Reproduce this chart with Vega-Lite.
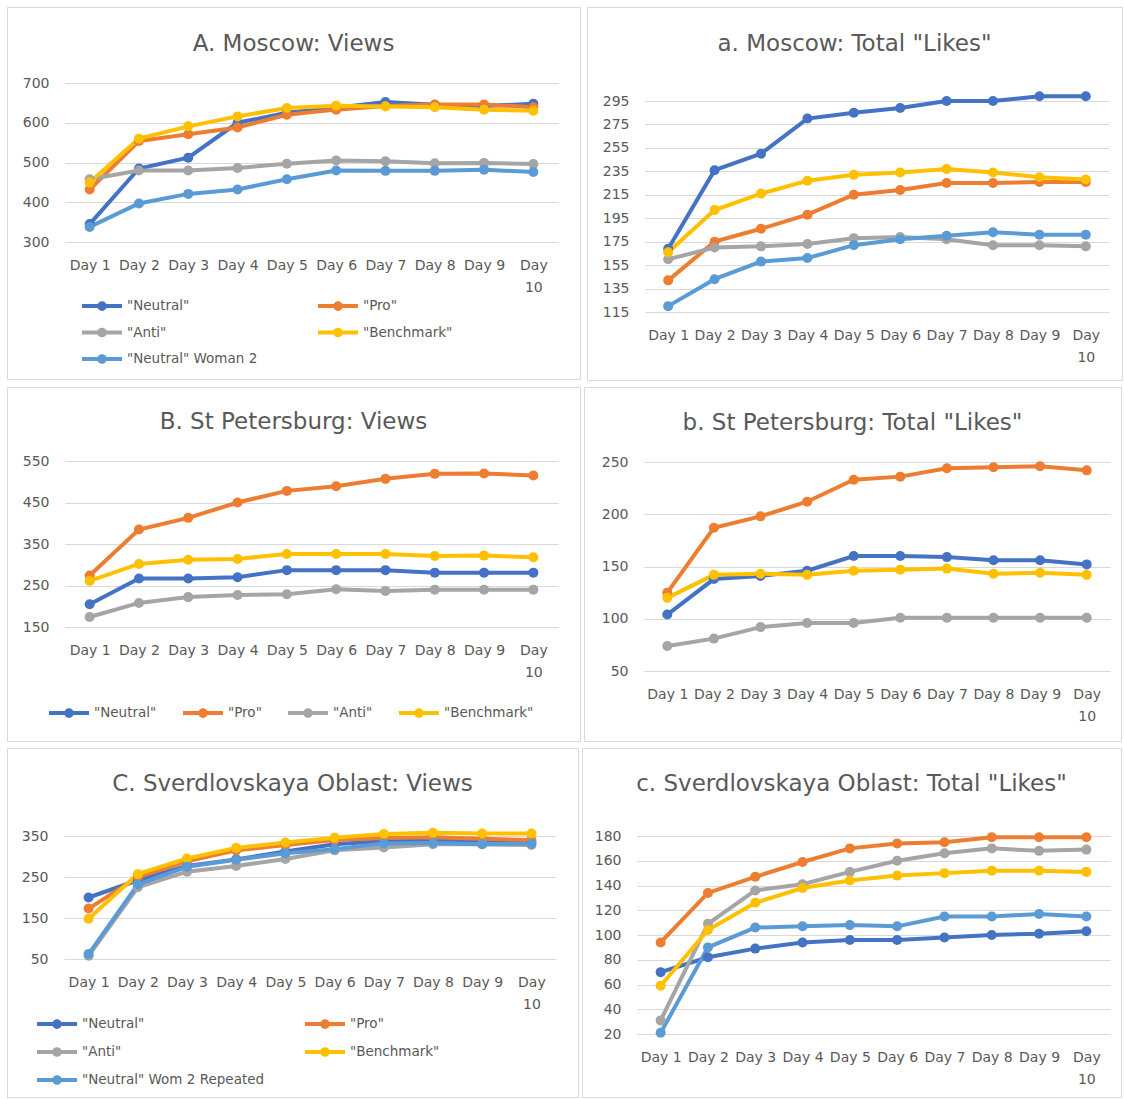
{
"$schema": "https://vega.github.io/schema/vega-lite/v6.json",
"padding": {"left": 6, "top": 6, "right": 0, "bottom": 0},
"background": "white",
"config": {
  "view": {"stroke": "#D9D9D9", "strokeWidth": 1},
  "font": "DejaVu Sans",
  "axis": {"labelFont": "DejaVu Sans", "labelFontSize": 14, "labelColor": "#595959", "domain": false, "ticks": false, "gridColor": "#D9D9D9", "gridWidth": 1, "labelPadding": 16},
  "legend": {"title": null, "direction": "horizontal", "symbolType": "M-1,0L3,0M0.72,0A0.28,0.28,0,1,1,1.28,0A0.28,0.28,0,1,1,0.72,0", "symbolSize": 400, "symbolStrokeWidth": 4, "labelOffset": 23, "labelLimit": 300, "labelFontSize": 13.5, "labelColor": "#595959", "labelFont": "DejaVu Sans", "padding": 0},
  "title": {"font": "DejaVu Sans", "fontSize": 23, "fontWeight": "normal", "color": "#595959", "anchor": "middle", "baseline": "alphabetic", "offset": 0}
},
"datasets": {
"A": [
{"s":"\"Neutral\"","d":"Day 1","v":345},{"s":"\"Neutral\"","d":"Day 2","v":485},{"s":"\"Neutral\"","d":"Day 3","v":512},{"s":"\"Neutral\"","d":"Day 4","v":600},{"s":"\"Neutral\"","d":"Day 5","v":625},{"s":"\"Neutral\"","d":"Day 6","v":638},{"s":"\"Neutral\"","d":"Day 7","v":652},{"s":"\"Neutral\"","d":"Day 8","v":645},{"s":"\"Neutral\"","d":"Day 9","v":642},{"s":"\"Neutral\"","d":"Day 10","v":648},
{"s":"\"Pro\"","d":"Day 1","v":432},{"s":"\"Pro\"","d":"Day 2","v":554},{"s":"\"Pro\"","d":"Day 3","v":571},{"s":"\"Pro\"","d":"Day 4","v":588},{"s":"\"Pro\"","d":"Day 5","v":620},{"s":"\"Pro\"","d":"Day 6","v":633},{"s":"\"Pro\"","d":"Day 7","v":642},{"s":"\"Pro\"","d":"Day 8","v":646},{"s":"\"Pro\"","d":"Day 9","v":646},{"s":"\"Pro\"","d":"Day 10","v":639},
{"s":"\"Anti\"","d":"Day 1","v":458},{"s":"\"Anti\"","d":"Day 2","v":480},{"s":"\"Anti\"","d":"Day 3","v":480},{"s":"\"Anti\"","d":"Day 4","v":486},{"s":"\"Anti\"","d":"Day 5","v":497},{"s":"\"Anti\"","d":"Day 6","v":505},{"s":"\"Anti\"","d":"Day 7","v":503},{"s":"\"Anti\"","d":"Day 8","v":498},{"s":"\"Anti\"","d":"Day 9","v":499},{"s":"\"Anti\"","d":"Day 10","v":496},
{"s":"\"Benchmark\"","d":"Day 1","v":450},{"s":"\"Benchmark\"","d":"Day 2","v":560},{"s":"\"Benchmark\"","d":"Day 3","v":591},{"s":"\"Benchmark\"","d":"Day 4","v":616},{"s":"\"Benchmark\"","d":"Day 5","v":637},{"s":"\"Benchmark\"","d":"Day 6","v":643},{"s":"\"Benchmark\"","d":"Day 7","v":641},{"s":"\"Benchmark\"","d":"Day 8","v":639},{"s":"\"Benchmark\"","d":"Day 9","v":633},{"s":"\"Benchmark\"","d":"Day 10","v":630},
{"s":"\"Neutral\" Woman 2","d":"Day 1","v":338},{"s":"\"Neutral\" Woman 2","d":"Day 2","v":397},{"s":"\"Neutral\" Woman 2","d":"Day 3","v":421},{"s":"\"Neutral\" Woman 2","d":"Day 4","v":432},{"s":"\"Neutral\" Woman 2","d":"Day 5","v":458},{"s":"\"Neutral\" Woman 2","d":"Day 6","v":480},{"s":"\"Neutral\" Woman 2","d":"Day 7","v":479},{"s":"\"Neutral\" Woman 2","d":"Day 8","v":479},{"s":"\"Neutral\" Woman 2","d":"Day 9","v":482},{"s":"\"Neutral\" Woman 2","d":"Day 10","v":476}
],
"a": [
{"s":"\"Neutral\"","d":"Day 1","v":169},{"s":"\"Neutral\"","d":"Day 2","v":236},{"s":"\"Neutral\"","d":"Day 3","v":250},{"s":"\"Neutral\"","d":"Day 4","v":280},{"s":"\"Neutral\"","d":"Day 5","v":285},{"s":"\"Neutral\"","d":"Day 6","v":289},{"s":"\"Neutral\"","d":"Day 7","v":295},{"s":"\"Neutral\"","d":"Day 8","v":295},{"s":"\"Neutral\"","d":"Day 9","v":299},{"s":"\"Neutral\"","d":"Day 10","v":299},
{"s":"\"Pro\"","d":"Day 1","v":142},{"s":"\"Pro\"","d":"Day 2","v":175},{"s":"\"Pro\"","d":"Day 3","v":186},{"s":"\"Pro\"","d":"Day 4","v":198},{"s":"\"Pro\"","d":"Day 5","v":215},{"s":"\"Pro\"","d":"Day 6","v":219},{"s":"\"Pro\"","d":"Day 7","v":225},{"s":"\"Pro\"","d":"Day 8","v":225},{"s":"\"Pro\"","d":"Day 9","v":226},{"s":"\"Pro\"","d":"Day 10","v":226},
{"s":"\"Anti\"","d":"Day 1","v":160},{"s":"\"Anti\"","d":"Day 2","v":170},{"s":"\"Anti\"","d":"Day 3","v":171},{"s":"\"Anti\"","d":"Day 4","v":173},{"s":"\"Anti\"","d":"Day 5","v":178},{"s":"\"Anti\"","d":"Day 6","v":179},{"s":"\"Anti\"","d":"Day 7","v":177},{"s":"\"Anti\"","d":"Day 8","v":172},{"s":"\"Anti\"","d":"Day 9","v":172},{"s":"\"Anti\"","d":"Day 10","v":171},
{"s":"\"Benchmark\"","d":"Day 1","v":166},{"s":"\"Benchmark\"","d":"Day 2","v":202},{"s":"\"Benchmark\"","d":"Day 3","v":216},{"s":"\"Benchmark\"","d":"Day 4","v":227},{"s":"\"Benchmark\"","d":"Day 5","v":232},{"s":"\"Benchmark\"","d":"Day 6","v":234},{"s":"\"Benchmark\"","d":"Day 7","v":237},{"s":"\"Benchmark\"","d":"Day 8","v":234},{"s":"\"Benchmark\"","d":"Day 9","v":230},{"s":"\"Benchmark\"","d":"Day 10","v":228},
{"s":"\"Neutral\" Woman 2","d":"Day 1","v":120},{"s":"\"Neutral\" Woman 2","d":"Day 2","v":143},{"s":"\"Neutral\" Woman 2","d":"Day 3","v":158},{"s":"\"Neutral\" Woman 2","d":"Day 4","v":161},{"s":"\"Neutral\" Woman 2","d":"Day 5","v":172},{"s":"\"Neutral\" Woman 2","d":"Day 6","v":177},{"s":"\"Neutral\" Woman 2","d":"Day 7","v":180},{"s":"\"Neutral\" Woman 2","d":"Day 8","v":183},{"s":"\"Neutral\" Woman 2","d":"Day 9","v":181},{"s":"\"Neutral\" Woman 2","d":"Day 10","v":181}
],
"B": [
{"s":"\"Neutral\"","d":"Day 1","v":205},{"s":"\"Neutral\"","d":"Day 2","v":267},{"s":"\"Neutral\"","d":"Day 3","v":267},{"s":"\"Neutral\"","d":"Day 4","v":270},{"s":"\"Neutral\"","d":"Day 5","v":287},{"s":"\"Neutral\"","d":"Day 6","v":287},{"s":"\"Neutral\"","d":"Day 7","v":287},{"s":"\"Neutral\"","d":"Day 8","v":281},{"s":"\"Neutral\"","d":"Day 9","v":281},{"s":"\"Neutral\"","d":"Day 10","v":281},
{"s":"\"Pro\"","d":"Day 1","v":274},{"s":"\"Pro\"","d":"Day 2","v":385},{"s":"\"Pro\"","d":"Day 3","v":413},{"s":"\"Pro\"","d":"Day 4","v":450},{"s":"\"Pro\"","d":"Day 5","v":478},{"s":"\"Pro\"","d":"Day 6","v":489},{"s":"\"Pro\"","d":"Day 7","v":507},{"s":"\"Pro\"","d":"Day 8","v":519},{"s":"\"Pro\"","d":"Day 9","v":520},{"s":"\"Pro\"","d":"Day 10","v":515},
{"s":"\"Anti\"","d":"Day 1","v":174},{"s":"\"Anti\"","d":"Day 2","v":208},{"s":"\"Anti\"","d":"Day 3","v":222},{"s":"\"Anti\"","d":"Day 4","v":227},{"s":"\"Anti\"","d":"Day 5","v":229},{"s":"\"Anti\"","d":"Day 6","v":241},{"s":"\"Anti\"","d":"Day 7","v":237},{"s":"\"Anti\"","d":"Day 8","v":240},{"s":"\"Anti\"","d":"Day 9","v":240},{"s":"\"Anti\"","d":"Day 10","v":240},
{"s":"\"Benchmark\"","d":"Day 1","v":261},{"s":"\"Benchmark\"","d":"Day 2","v":302},{"s":"\"Benchmark\"","d":"Day 3","v":312},{"s":"\"Benchmark\"","d":"Day 4","v":314},{"s":"\"Benchmark\"","d":"Day 5","v":326},{"s":"\"Benchmark\"","d":"Day 6","v":326},{"s":"\"Benchmark\"","d":"Day 7","v":326},{"s":"\"Benchmark\"","d":"Day 8","v":321},{"s":"\"Benchmark\"","d":"Day 9","v":322},{"s":"\"Benchmark\"","d":"Day 10","v":318}
],
"b": [
{"s":"\"Neutral\"","d":"Day 1","v":104},{"s":"\"Neutral\"","d":"Day 2","v":138},{"s":"\"Neutral\"","d":"Day 3","v":141},{"s":"\"Neutral\"","d":"Day 4","v":146},{"s":"\"Neutral\"","d":"Day 5","v":160},{"s":"\"Neutral\"","d":"Day 6","v":160},{"s":"\"Neutral\"","d":"Day 7","v":159},{"s":"\"Neutral\"","d":"Day 8","v":156},{"s":"\"Neutral\"","d":"Day 9","v":156},{"s":"\"Neutral\"","d":"Day 10","v":152},
{"s":"\"Pro\"","d":"Day 1","v":125},{"s":"\"Pro\"","d":"Day 2","v":187},{"s":"\"Pro\"","d":"Day 3","v":198},{"s":"\"Pro\"","d":"Day 4","v":212},{"s":"\"Pro\"","d":"Day 5","v":233},{"s":"\"Pro\"","d":"Day 6","v":236},{"s":"\"Pro\"","d":"Day 7","v":244},{"s":"\"Pro\"","d":"Day 8","v":245},{"s":"\"Pro\"","d":"Day 9","v":246},{"s":"\"Pro\"","d":"Day 10","v":242},
{"s":"\"Anti\"","d":"Day 1","v":74},{"s":"\"Anti\"","d":"Day 2","v":81},{"s":"\"Anti\"","d":"Day 3","v":92},{"s":"\"Anti\"","d":"Day 4","v":96},{"s":"\"Anti\"","d":"Day 5","v":96},{"s":"\"Anti\"","d":"Day 6","v":101},{"s":"\"Anti\"","d":"Day 7","v":101},{"s":"\"Anti\"","d":"Day 8","v":101},{"s":"\"Anti\"","d":"Day 9","v":101},{"s":"\"Anti\"","d":"Day 10","v":101},
{"s":"\"Benchmark\"","d":"Day 1","v":120},{"s":"\"Benchmark\"","d":"Day 2","v":142},{"s":"\"Benchmark\"","d":"Day 3","v":143},{"s":"\"Benchmark\"","d":"Day 4","v":142},{"s":"\"Benchmark\"","d":"Day 5","v":146},{"s":"\"Benchmark\"","d":"Day 6","v":147},{"s":"\"Benchmark\"","d":"Day 7","v":148},{"s":"\"Benchmark\"","d":"Day 8","v":143},{"s":"\"Benchmark\"","d":"Day 9","v":144},{"s":"\"Benchmark\"","d":"Day 10","v":142}
],
"C": [
{"s":"\"Neutral\"","d":"Day 1","v":200},{"s":"\"Neutral\"","d":"Day 2","v":242},{"s":"\"Neutral\"","d":"Day 3","v":277},{"s":"\"Neutral\"","d":"Day 4","v":293},{"s":"\"Neutral\"","d":"Day 5","v":312},{"s":"\"Neutral\"","d":"Day 6","v":330},{"s":"\"Neutral\"","d":"Day 7","v":338},{"s":"\"Neutral\"","d":"Day 8","v":339},{"s":"\"Neutral\"","d":"Day 9","v":337},{"s":"\"Neutral\"","d":"Day 10","v":335},
{"s":"\"Pro\"","d":"Day 1","v":173},{"s":"\"Pro\"","d":"Day 2","v":250},{"s":"\"Pro\"","d":"Day 3","v":288},{"s":"\"Pro\"","d":"Day 4","v":315},{"s":"\"Pro\"","d":"Day 5","v":328},{"s":"\"Pro\"","d":"Day 6","v":340},{"s":"\"Pro\"","d":"Day 7","v":345},{"s":"\"Pro\"","d":"Day 8","v":347},{"s":"\"Pro\"","d":"Day 9","v":343},{"s":"\"Pro\"","d":"Day 10","v":340},
{"s":"\"Anti\"","d":"Day 1","v":58},{"s":"\"Anti\"","d":"Day 2","v":225},{"s":"\"Anti\"","d":"Day 3","v":263},{"s":"\"Anti\"","d":"Day 4","v":277},{"s":"\"Anti\"","d":"Day 5","v":294},{"s":"\"Anti\"","d":"Day 6","v":315},{"s":"\"Anti\"","d":"Day 7","v":322},{"s":"\"Anti\"","d":"Day 8","v":330},{"s":"\"Anti\"","d":"Day 9","v":330},{"s":"\"Anti\"","d":"Day 10","v":328},
{"s":"\"Benchmark\"","d":"Day 1","v":148},{"s":"\"Benchmark\"","d":"Day 2","v":257},{"s":"\"Benchmark\"","d":"Day 3","v":295},{"s":"\"Benchmark\"","d":"Day 4","v":321},{"s":"\"Benchmark\"","d":"Day 5","v":334},{"s":"\"Benchmark\"","d":"Day 6","v":346},{"s":"\"Benchmark\"","d":"Day 7","v":355},{"s":"\"Benchmark\"","d":"Day 8","v":358},{"s":"\"Benchmark\"","d":"Day 9","v":356},{"s":"\"Benchmark\"","d":"Day 10","v":356},
{"s":"\"Neutral\" Wom 2 Repeated","d":"Day 1","v":62},{"s":"\"Neutral\" Wom 2 Repeated","d":"Day 2","v":232},{"s":"\"Neutral\" Wom 2 Repeated","d":"Day 3","v":275},{"s":"\"Neutral\" Wom 2 Repeated","d":"Day 4","v":292},{"s":"\"Neutral\" Wom 2 Repeated","d":"Day 5","v":308},{"s":"\"Neutral\" Wom 2 Repeated","d":"Day 6","v":318},{"s":"\"Neutral\" Wom 2 Repeated","d":"Day 7","v":332},{"s":"\"Neutral\" Wom 2 Repeated","d":"Day 8","v":333},{"s":"\"Neutral\" Wom 2 Repeated","d":"Day 9","v":330},{"s":"\"Neutral\" Wom 2 Repeated","d":"Day 10","v":331}
],
"c": [
{"s":"\"Neutral\"","d":"Day 1","v":70},{"s":"\"Neutral\"","d":"Day 2","v":82},{"s":"\"Neutral\"","d":"Day 3","v":89},{"s":"\"Neutral\"","d":"Day 4","v":94},{"s":"\"Neutral\"","d":"Day 5","v":96},{"s":"\"Neutral\"","d":"Day 6","v":96},{"s":"\"Neutral\"","d":"Day 7","v":98},{"s":"\"Neutral\"","d":"Day 8","v":100},{"s":"\"Neutral\"","d":"Day 9","v":101},{"s":"\"Neutral\"","d":"Day 10","v":103},
{"s":"\"Pro\"","d":"Day 1","v":94},{"s":"\"Pro\"","d":"Day 2","v":134},{"s":"\"Pro\"","d":"Day 3","v":147},{"s":"\"Pro\"","d":"Day 4","v":159},{"s":"\"Pro\"","d":"Day 5","v":170},{"s":"\"Pro\"","d":"Day 6","v":174},{"s":"\"Pro\"","d":"Day 7","v":175},{"s":"\"Pro\"","d":"Day 8","v":179},{"s":"\"Pro\"","d":"Day 9","v":179},{"s":"\"Pro\"","d":"Day 10","v":179},
{"s":"\"Anti\"","d":"Day 1","v":31},{"s":"\"Anti\"","d":"Day 2","v":109},{"s":"\"Anti\"","d":"Day 3","v":136},{"s":"\"Anti\"","d":"Day 4","v":141},{"s":"\"Anti\"","d":"Day 5","v":151},{"s":"\"Anti\"","d":"Day 6","v":160},{"s":"\"Anti\"","d":"Day 7","v":166},{"s":"\"Anti\"","d":"Day 8","v":170},{"s":"\"Anti\"","d":"Day 9","v":168},{"s":"\"Anti\"","d":"Day 10","v":169},
{"s":"\"Benchmark\"","d":"Day 1","v":59},{"s":"\"Benchmark\"","d":"Day 2","v":104},{"s":"\"Benchmark\"","d":"Day 3","v":126},{"s":"\"Benchmark\"","d":"Day 4","v":138},{"s":"\"Benchmark\"","d":"Day 5","v":144},{"s":"\"Benchmark\"","d":"Day 6","v":148},{"s":"\"Benchmark\"","d":"Day 7","v":150},{"s":"\"Benchmark\"","d":"Day 8","v":152},{"s":"\"Benchmark\"","d":"Day 9","v":152},{"s":"\"Benchmark\"","d":"Day 10","v":151},
{"s":"\"Neutral\" Wom 2 Repeated","d":"Day 1","v":21},{"s":"\"Neutral\" Wom 2 Repeated","d":"Day 2","v":90},{"s":"\"Neutral\" Wom 2 Repeated","d":"Day 3","v":106},{"s":"\"Neutral\" Wom 2 Repeated","d":"Day 4","v":107},{"s":"\"Neutral\" Wom 2 Repeated","d":"Day 5","v":108},{"s":"\"Neutral\" Wom 2 Repeated","d":"Day 6","v":107},{"s":"\"Neutral\" Wom 2 Repeated","d":"Day 7","v":115},{"s":"\"Neutral\" Wom 2 Repeated","d":"Day 8","v":115},{"s":"\"Neutral\" Wom 2 Repeated","d":"Day 9","v":117},{"s":"\"Neutral\" Wom 2 Repeated","d":"Day 10","v":115}
]
},
"resolve": {"scale": {"color": "independent", "x": "independent", "y": "independent"}, "legend": {"color": "independent"}},
"spacing": 5,
"vconcat": [
{
"spacing": 5,
"resolve": {"scale": {"color": "independent", "x": "independent", "y": "independent"}, "legend": {"color": "independent"}},
"hconcat": [
{
"width": 573, "height": 372,
"data": {"name": "A"},
"title": {"text": "A. Moscow: Views", "dy": 53},
"mark": {"type": "line", "strokeWidth": 4, "point": {"filled": true, "size": 100}},
"encoding": {
"x": {"field": "d", "type": "ordinal", "scale": {"type": "point", "domain": ["Day 1","Day 2","Day 3","Day 4","Day 5","Day 6","Day 7","Day 8","Day 9","Day 10"], "range": [58, 551], "padding": 0.5},
 "axis": {"orient": "bottom", "offset": -137, "grid": false, "labelAngle": 0, "title": null, "labelOverlap": false, "labelLineHeight": 22, "labelExpr": "datum.label == 'Day 10' ? ['Day', '10'] : datum.label"}},
"y": {"field": "v", "type": "quantitative", "scale": {"domain": [300, 700], "range": [235, 76], "nice": false, "zero": false},
 "axis": {"orient": "left", "offset": -58, "grid": true, "title": null, "values": [300,400,500,600,700]}},
"color": {"field": "s", "type": "nominal", "scale": {"domain": ["\"Neutral\"","\"Pro\"","\"Anti\"","\"Benchmark\"","\"Neutral\" Woman 2"], "range": ["#4472C4","#ED7D31","#A5A5A5","#FFC000","#5B9BD5"]},
 "legend": {"orient": "none", "legendX": 73, "legendY": 287, "columns": 2, "columnPadding": 52, "rowPadding": 3.5}}
}
},
{
"width": 535, "height": 373,
"data": {"name": "a"},
"title": {"text": "a. Moscow: Total \"Likes\"", "dy": 53},
"mark": {"type": "line", "strokeWidth": 4, "point": {"filled": true, "size": 100}},
"encoding": {
"x": {"field": "d", "type": "ordinal", "scale": {"type": "point", "domain": ["Day 1","Day 2","Day 3","Day 4","Day 5","Day 6","Day 7","Day 8","Day 9","Day 10"], "range": [58, 522], "padding": 0.5},
 "axis": {"orient": "bottom", "offset": -68, "grid": false, "labelAngle": 0, "title": null, "labelOverlap": false, "labelLineHeight": 22, "labelExpr": "datum.label == 'Day 10' ? ['Day', '10'] : datum.label"}},
"y": {"field": "v", "type": "quantitative", "scale": {"domain": [115, 295], "range": [305, 94], "nice": false, "zero": false},
 "axis": {"orient": "left", "offset": -58, "grid": true, "title": null, "values": [115,135,155,175,195,215,235,255,275,295]}},
"color": {"field": "s", "type": "nominal", "scale": {"domain": ["\"Neutral\"","\"Pro\"","\"Anti\"","\"Benchmark\"","\"Neutral\" Woman 2"], "range": ["#4472C4","#ED7D31","#A5A5A5","#FFC000","#5B9BD5"]}, "legend": null}
}
}
]
},
{
"spacing": 2,
"resolve": {"scale": {"color": "independent", "x": "independent", "y": "independent"}, "legend": {"color": "independent"}},
"hconcat": [
{
"width": 573, "height": 354,
"data": {"name": "B"},
"title": {"text": "B. St Petersburg: Views", "dy": 51},
"mark": {"type": "line", "strokeWidth": 4, "point": {"filled": true, "size": 100}},
"encoding": {
"x": {"field": "d", "type": "ordinal", "scale": {"type": "point", "domain": ["Day 1","Day 2","Day 3","Day 4","Day 5","Day 6","Day 7","Day 8","Day 9","Day 10"], "range": [58, 551], "padding": 0.5},
 "axis": {"orient": "bottom", "offset": -114, "grid": false, "labelAngle": 0, "title": null, "labelOverlap": false, "labelLineHeight": 22, "labelExpr": "datum.label == 'Day 10' ? ['Day', '10'] : datum.label"}},
"y": {"field": "v", "type": "quantitative", "scale": {"domain": [150, 550], "range": [240, 74], "nice": false, "zero": false},
 "axis": {"orient": "left", "offset": -58, "grid": true, "title": null, "values": [150,250,350,450,550]}},
"color": {"field": "s", "type": "nominal", "scale": {"domain": ["\"Neutral\"","\"Pro\"","\"Anti\"","\"Benchmark\""], "range": ["#4472C4","#ED7D31","#A5A5A5","#FFC000"]},
 "legend": {"orient": "none", "legendX": 40, "legendY": 314, "columns": 4, "columnPadding": 18, "rowPadding": 0}}
}
},
{
"width": 537, "height": 354,
"data": {"name": "b"},
"title": {"text": "b. St Petersburg: Total \"Likes\"", "dy": 52},
"mark": {"type": "line", "strokeWidth": 4, "point": {"filled": true, "size": 100}},
"encoding": {
"x": {"field": "d", "type": "ordinal", "scale": {"type": "point", "domain": ["Day 1","Day 2","Day 3","Day 4","Day 5","Day 6","Day 7","Day 8","Day 9","Day 10"], "range": [60, 526], "padding": 0.5},
 "axis": {"orient": "bottom", "offset": -70, "grid": false, "labelAngle": 0, "title": null, "labelOverlap": false, "labelLineHeight": 22, "labelExpr": "datum.label == 'Day 10' ? ['Day', '10'] : datum.label"}},
"y": {"field": "v", "type": "quantitative", "scale": {"domain": [50, 250], "range": [284, 75], "nice": false, "zero": false},
 "axis": {"orient": "left", "offset": -60, "grid": true, "title": null, "values": [50,100,150,200,250]}},
"color": {"field": "s", "type": "nominal", "scale": {"domain": ["\"Neutral\"","\"Pro\"","\"Anti\"","\"Benchmark\""], "range": ["#4472C4","#ED7D31","#A5A5A5","#FFC000"]}, "legend": null}
}
}
]
},
{
"spacing": 2,
"resolve": {"scale": {"color": "independent", "x": "independent", "y": "independent"}, "legend": {"color": "independent"}},
"hconcat": [
{
"width": 571, "height": 349,
"data": {"name": "C"},
"title": {"text": "C. Sverdlovskaya Oblast: Views", "dy": 52},
"mark": {"type": "line", "strokeWidth": 4, "point": {"filled": true, "size": 100}},
"encoding": {
"x": {"field": "d", "type": "ordinal", "scale": {"type": "point", "domain": ["Day 1","Day 2","Day 3","Day 4","Day 5","Day 6","Day 7","Day 8","Day 9","Day 10"], "range": [57, 549], "padding": 0.5},
 "axis": {"orient": "bottom", "offset": -138, "grid": false, "labelAngle": 0, "title": null, "labelOverlap": false, "labelLineHeight": 22, "labelExpr": "datum.label == 'Day 10' ? ['Day', '10'] : datum.label"}},
"y": {"field": "v", "type": "quantitative", "scale": {"domain": [50, 350], "range": [211, 88], "nice": false, "zero": false},
 "axis": {"orient": "left", "offset": -57, "grid": true, "title": null, "values": [50,150,250,350]}},
"color": {"field": "s", "type": "nominal", "scale": {"domain": ["\"Neutral\"","\"Pro\"","\"Anti\"","\"Benchmark\"","\"Neutral\" Wom 2 Repeated"], "range": ["#4472C4","#ED7D31","#A5A5A5","#FFC000","#5B9BD5"]},
 "legend": {"orient": "none", "legendX": 28, "legendY": 264, "columns": 2, "columnPadding": 32, "rowPadding": 5}}
}
},
{
"width": 539, "height": 349,
"data": {"name": "c"},
"title": {"text": "c. Sverdlovskaya Oblast: Total \"Likes\"", "dy": 52},
"mark": {"type": "line", "strokeWidth": 4, "point": {"filled": true, "size": 100}},
"encoding": {
"x": {"field": "d", "type": "ordinal", "scale": {"type": "point", "domain": ["Day 1","Day 2","Day 3","Day 4","Day 5","Day 6","Day 7","Day 8","Day 9","Day 10"], "range": [55, 528], "padding": 0.5},
 "axis": {"orient": "bottom", "offset": -63, "grid": false, "labelAngle": 0, "title": null, "labelOverlap": false, "labelLineHeight": 22, "labelExpr": "datum.label == 'Day 10' ? ['Day', '10'] : datum.label"}},
"y": {"field": "v", "type": "quantitative", "scale": {"domain": [20, 180], "range": [286, 88], "nice": false, "zero": false},
 "axis": {"orient": "left", "offset": -55, "grid": true, "title": null, "values": [20,40,60,80,100,120,140,160,180]}},
"color": {"field": "s", "type": "nominal", "scale": {"domain": ["\"Neutral\"","\"Pro\"","\"Anti\"","\"Benchmark\"","\"Neutral\" Wom 2 Repeated"], "range": ["#4472C4","#ED7D31","#A5A5A5","#FFC000","#5B9BD5"]}, "legend": null}
}
}
]
}
]
}
